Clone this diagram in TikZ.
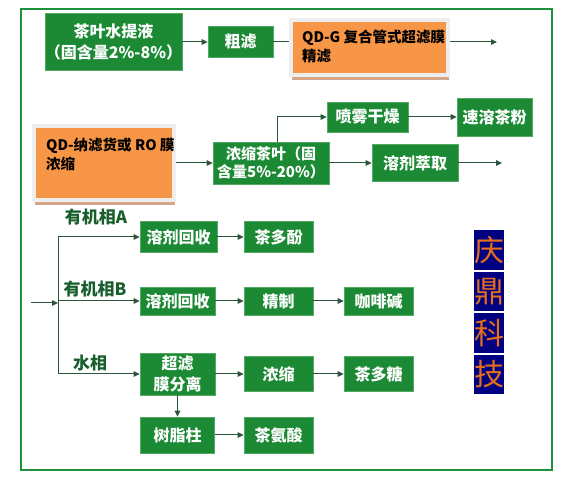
\documentclass[tikz,border=0pt]{standalone}
\usepackage{fontspec}
\setmainfont{Noto Sans CJK SC}
\usepackage{tikz}
\usetikzlibrary{arrows.meta, shadows, positioning}
\definecolor{boxgreen}{RGB}{28, 138, 52}
\definecolor{edgegreen}{RGB}{80, 170, 95}
\definecolor{framegreen}{RGB}{30, 145, 60}
\definecolor{linegreen}{RGB}{45, 85, 60}
\definecolor{labelgreen}{RGB}{25, 95, 45}
\definecolor{qdorange}{RGB}{247, 150, 70}
\definecolor{qdframe}{RGB}{238, 238, 238}
\definecolor{qdshadow}{RGB}{212, 165, 135}
\definecolor{logoblue}{RGB}{0, 0, 128}
\definecolor{logoorange}{RGB}{228, 110, 30}

\tikzset{
	gbox/.style={rectangle, fill=boxgreen, draw=edgegreen, line width=0.6pt, text=white,
		font=\bfseries\fontsize{16}{21}\selectfont, align=center, inner sep=0pt},
	obox/.style={rectangle, fill=qdorange, draw=qdframe, line width=4pt, inner sep=0pt,
		general shadow={fill=qdshadow, shadow xshift=1pt, shadow yshift=-5pt}},
	otext/.style={anchor=north west, inner sep=0pt, align=left,
		font=\bfseries\fontsize{14.5}{19}\selectfont},
	flow/.style={draw=linegreen, line width=1pt, -{Triangle[length=6pt,width=5.5pt]}},
	plain/.style={draw=linegreen, line width=1pt},
	phase/.style={text=labelgreen, font=\bfseries\fontsize{17}{19}\selectfont, inner sep=0pt},
	logo/.style={fill=logoblue, text=logoorange, minimum width=30pt, minimum height=39.5pt,
		inner sep=0pt, font=\fontsize{30}{30}\selectfont}
}

\begin{document}
\begin{tikzpicture}[x=1pt, y=-1pt]
	\useasboundingbox (0,0) rectangle (571,478);
	\draw[framegreen, line width=2.5pt] (21,9) rectangle (552,470);
	
	% upper part
	\node[gbox, minimum width=131pt, minimum height=57pt] (tea) at (113.5,42) {茶叶水提液\\（固含量2\%-8\%）};
	\node[gbox, minimum width=65pt, minimum height=31pt] (cu) at (240.5,42) {粗滤};
	\node[obox, minimum width=157pt, minimum height=55pt] (qdg) at (369.5,47.5) {};
	\node[otext] (qdgtext) at (302,30) {QD-G 复合管式超滤膜\\精滤};
	\coordinate (qdgout) at (497,42);
	\draw[flow] (tea) -- (cu);
	\draw[plain] (cu) -- (cu -| qdg.west);
	\draw[flow] (qdg.east |- cu) -- (qdgout);
	
	\node[obox, minimum width=140pt, minimum height=74pt] (ro) at (104,163) {};
	\node[otext] (rotext) at (46,138) {QD-纳滤货或 RO 膜\\浓缩};
	\node[gbox, minimum width=116pt, minimum height=42pt, font=\bfseries\fontsize{15}{18}\selectfont] (nx) at (271,163) {浓缩茶叶（固\\含量5\%-20\%）};
	\node[gbox, minimum width=81pt, minimum height=30pt] (pw) at (367.5,117) {喷雾干燥};
	\node[gbox, minimum width=75pt, minimum height=38pt] (sr) at (494.5,117) {速溶茶粉};
	\node[gbox, minimum width=86pt, minimum height=37pt] (rj) at (415,163) {溶剂萃取};
	\coordinate (rjout) at (502,163);
	\draw[flow] (ro) -- (nx);
	\draw[flow] ([xshift=6pt]nx.north) |- (pw);
	\draw[flow] (pw) -- (sr);
	\draw[flow] (nx) -- (rj);
	\draw[flow] (rj) -- (rjout);
	
	% lower part
	\node[gbox, minimum width=77pt, minimum height=31pt] (hsa) at (178.5,237) {溶剂回收};
	\node[gbox, minimum width=69pt, minimum height=31pt] (cdf) at (278.5,237) {茶多酚};
	\node[gbox, minimum width=75pt, minimum height=28pt] (hsb) at (177.5,301) {溶剂回收};
	\node[gbox, minimum width=69pt, minimum height=28pt] (jz) at (278.5,301) {精制};
	\node[gbox, minimum width=69pt, minimum height=28pt] (kfj) at (378.5,301) {咖啡碱};
	\node[gbox, minimum width=75pt, minimum height=42pt] (clf) at (177.5,374) {超滤\\膜分离};
	\node[gbox, minimum width=69pt, minimum height=35pt] (ns) at (278.5,374) {浓缩};
	\node[gbox, minimum width=69pt, minimum height=35pt] (cdt) at (378.5,374) {茶多糖};
	\node[gbox, minimum width=74pt, minimum height=36pt] (szz) at (177.5,435) {树脂柱};
	\node[gbox, minimum width=69pt, minimum height=36pt] (cas) at (278.5,435) {茶氨酸};
	
	\node[phase] (phasea) at (96,217) {有机相A};
	\node[phase] (phaseb) at (95,289) {有机相B};
	\node[phase] (phasew) at (90,363) {水相};
	
	\coordinate (in) at (31,303);
	\coordinate (split) at (58,303);
	\coordinate (top) at (58,237);
	\coordinate (bot) at (58,374);
	\draw[plain] (top) -- (bot);
	\draw[flow] (in) -- (split);
	\draw[flow] (top) -- (hsa);
	\draw[flow] (top |- hsb) -- (hsb);
	\draw[flow] (bot) -- (clf);
	\draw[flow] (hsa) -- (cdf);
	\draw[flow] (hsb) -- (jz);
	\draw[flow] (jz) -- (kfj);
	\draw[flow] (clf) -- (ns);
	\draw[flow] (ns) -- (cdt);
	\draw[flow] (clf) -- (szz);
	\draw[flow] (szz) -- (cas);
	
	\foreach \ch [count=\i from 0] in {庆,鼎,科,技}
	\node[logo] (logo\i) at (489,250+41.5*\i) {\ch};
\end{tikzpicture}
\end{document}
